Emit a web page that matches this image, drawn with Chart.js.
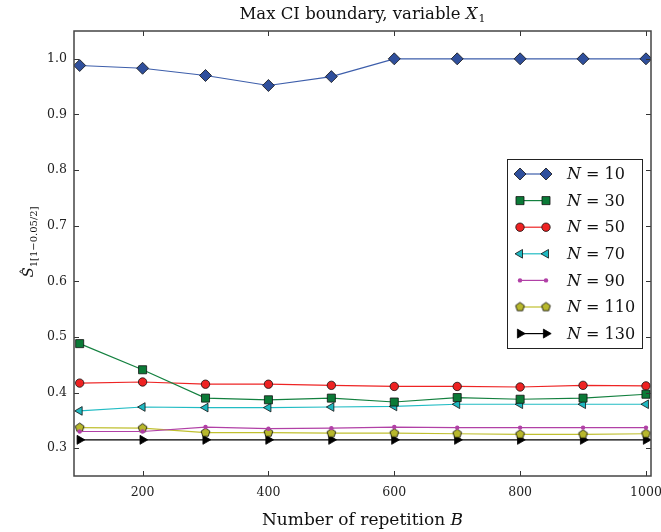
<!DOCTYPE html>
<html>
<head>
<meta charset="utf-8">
<script src="https://cdn.jsdelivr.net/npm/chart.js@4/dist/chart.umd.min.js"></script>
<style>
  body { margin: 0; background: #fff; }
  #grafico { display: block; }
</style>
</head>
<body>
<canvas id="grafico" width="661" height="532"></canvas>
<script>
// datos
const repeticiones = [100, 200, 300, 400, 500, 600, 700, 800, 900, 1000];
const etiquetas = ["N = 10", "N = 30", "N = 50", "N = 70", "N = 90", "N = 110", "N = 130"];
const n10  = [0.988, 0.983, 0.970, 0.952, 0.968, 1.000, 1.000, 1.000, 1.000, 1.000];
const n30  = [0.488, 0.441, 0.390, 0.387, 0.390, 0.383, 0.391, 0.388, 0.390, 0.397];
const n50  = [0.417, 0.419, 0.415, 0.415, 0.413, 0.411, 0.411, 0.410, 0.413, 0.412];
const n70  = [0.367, 0.374, 0.373, 0.373, 0.374, 0.375, 0.379, 0.379, 0.379, 0.379];
const n90  = [0.330, 0.330, 0.338, 0.335, 0.336, 0.338, 0.337, 0.337, 0.337, 0.337];
const n110 = [0.337, 0.336, 0.328, 0.328, 0.327, 0.327, 0.326, 0.325, 0.325, 0.326];
const n130 = [0.315, 0.315, 0.315, 0.315, 0.315, 0.315, 0.315, 0.315, 0.315, 0.315];
const ticksX = [200, 400, 600, 800, 1000];
const ticksY = [0.3, 0.4, 0.5, 0.6, 0.7, 0.8, 0.9, 1.0];

const fuente = "'DejaVu Serif', 'Liberation Serif', serif";

// pentagono para N=110
function pentagono(r, relleno) {
  let c = document.createElement("canvas");
  let s = Math.ceil(r * 2 + 3);
  c.width = s; c.height = s;
  let g = c.getContext("2d");
  g.beginPath();
  for (let i = 0; i < 5; i++) {
    let a = -Math.PI / 2 + i * 2 * Math.PI / 5;
    let px = s / 2 + r * Math.cos(a), py = s / 2 + r * Math.sin(a);
    if (i == 0) g.moveTo(px, py); else g.lineTo(px, py);
  }
  g.closePath();
  g.fillStyle = relleno;
  g.fill();
  g.lineWidth = 0.8;
  g.strokeStyle = "#000";
  g.stroke();
  return c;
}

function puntos(vals) {
  return repeticiones.map((b, i) => ({ x: b, y: vals[i] }));
}

function serie(label, vals, linea, relleno, estilo, radio, rot, borde) {
  return {
    label: label,
    data: puntos(vals),
    borderColor: linea,
    borderWidth: 1.2,
    backgroundColor: relleno,
    pointBackgroundColor: relleno,
    pointBorderColor: borde,
    pointBorderWidth: borde ? 0.8 : 0,
    pointStyle: estilo,
    pointRadius: radio,
    pointRotation: rot,
    tension: 0
  };
}

const datasets = [
  serie(etiquetas[0], n10, "#3d5eab", "#2f4f9c", "rectRot", 6, 0, "#111"),
  serie(etiquetas[1], n30, "#13803f", "#0b7a37", "rect", 5.7, 0, "#111"),
  serie(etiquetas[2], n50, "#ee2424", "#ee2222", "circle", 4.2, 0, "#111"),
  serie(etiquetas[3], n70, "#22bcc4", "#1fb8c0", "triangle", 5, -90, "#111"),
  serie(etiquetas[4], n90, "#b140a6", "#b140a6", "circle", 2.2, 0, null),
  serie(etiquetas[5], n110, "#c0c030", "#b8b82c", pentagono(4.6, "#b8b82c"), 4.6, 0, "#111"),
  serie(etiquetas[6], n130, "#000000", "#000000", "triangle", 5.2, 90, "#000")
];

// marco, ticks hacia adentro, titulos y leyenda
const decoracion = {
  id: "decoracion",
  afterDraw(chart) {
    const ctx = chart.ctx;
    const a = chart.chartArea;
    const sx = chart.scales.x, sy = chart.scales.y;
    ctx.save();
    ctx.strokeStyle = "#333";
    ctx.lineWidth = 1;
    ticksX.forEach(t => {
      let px = Math.round(sx.getPixelForValue(t)) + 0.5;
      ctx.beginPath();
      ctx.moveTo(px, a.bottom); ctx.lineTo(px, a.bottom - 5);
      ctx.moveTo(px, a.top); ctx.lineTo(px, a.top + 5);
      ctx.stroke();
    });
    ticksY.forEach(t => {
      let py = Math.round(sy.getPixelForValue(t)) + 0.5;
      ctx.beginPath();
      ctx.moveTo(a.left, py); ctx.lineTo(a.left + 5, py);
      ctx.moveTo(a.right, py); ctx.lineTo(a.right - 5, py);
      ctx.stroke();
    });
    ctx.lineWidth = 1.5;
    ctx.strokeStyle = "#444";
    ctx.strokeRect(a.left, a.top, a.right - a.left, a.bottom - a.top);

    // leyenda
    const lx = 507, ly = 159, lw = 135, lh = 189;
    ctx.fillStyle = "#fff";
    ctx.fillRect(lx, ly, lw, lh);
    ctx.lineWidth = 1;
    ctx.strokeStyle = "#222";
    ctx.strokeRect(lx + 0.5, ly + 0.5, lw, lh);
    chart.data.datasets.forEach((d, i) => {
      let y = 174 + i * 26.6;
      ctx.strokeStyle = d.borderColor;
      ctx.lineWidth = 1.2;
      ctx.beginPath();
      ctx.moveTo(520, y); ctx.lineTo(546, y);
      ctx.stroke();
      [520, 546].forEach(x => {
        ctx.fillStyle = d.pointBackgroundColor;
        ctx.strokeStyle = d.pointBorderColor || d.pointBackgroundColor;
        ctx.lineWidth = d.pointBorderWidth;
        Chart.helpers.drawPoint(ctx, {
          pointStyle: d.pointStyle, rotation: d.pointRotation,
          radius: d.pointRadius, borderWidth: d.pointBorderWidth
        }, x, y);
      });
      let partes = d.label.split(" = ");
      ctx.fillStyle = "#111";
      ctx.textBaseline = "middle";
      ctx.textAlign = "left";
      ctx.font = "italic 16px " + fuente;
      ctx.fillText(partes[0], 567, y + 1);
      let w = ctx.measureText(partes[0]).width;
      ctx.font = "16px " + fuente;
      ctx.fillText(" = " + partes[1], 567 + w, y + 1);
    });

    // titulo
    ctx.fillStyle = "#111";
    ctx.textBaseline = "alphabetic";
    ctx.font = "16.5px " + fuente;
    let t1 = "Max CI boundary, variable ";
    let w1 = ctx.measureText(t1).width;
    ctx.font = "italic 16.5px " + fuente;
    let w2 = ctx.measureText("X").width;
    ctx.font = "11px " + fuente;
    let w3 = ctx.measureText("1").width;
    let x0 = (a.left + a.right) / 2 - (w1 + w2 + w3 + 1) / 2;
    ctx.textAlign = "left";
    ctx.font = "16.5px " + fuente;
    ctx.fillText(t1, x0, 19);
    ctx.font = "italic 16.5px " + fuente;
    ctx.fillText("X", x0 + w1, 19);
    ctx.font = "11px " + fuente;
    ctx.fillText("1", x0 + w1 + w2 + 1, 22);

    // titulo eje x
    ctx.font = "17px " + fuente;
    let tx = "Number of repetition ";
    let wx = ctx.measureText(tx).width;
    ctx.font = "italic 17px " + fuente;
    let wb = ctx.measureText("B").width;
    let xx = (a.left + a.right) / 2 - (wx + wb) / 2;
    ctx.font = "17px " + fuente;
    ctx.fillText(tx, xx, 525);
    ctx.font = "italic 17px " + fuente;
    ctx.fillText("B", xx + wx, 525);

    // titulo eje y
    ctx.translate(33, 242);
    ctx.rotate(-Math.PI / 2);
    ctx.font = "italic 15px " + fuente;
    let sub = "1[1\u22120.05/2]";
    let ws = ctx.measureText("S").width;
    ctx.font = "10px " + fuente;
    let wsub = ctx.measureText(sub).width;
    let x1 = -(ws + wsub) / 2;
    ctx.font = "italic 15px " + fuente;
    ctx.fillText("S", x1, 0);
    ctx.font = "12px " + fuente;
    ctx.textAlign = "center";
    ctx.fillText("\u02C6", x1 + ws / 2 + 1, -3);
    ctx.textAlign = "left";
    ctx.font = "10px " + fuente;
    ctx.fillText(sub, x1 + ws, 4);
    ctx.restore();
  }
};

const grafico = new Chart(document.getElementById("grafico"), {
  type: "line",
  data: { datasets: datasets },
  options: {
    responsive: false,
    animation: false,
    layout: { padding: { top: 31, right: 0, left: 0, bottom: 0 } },
    plugins: { legend: { display: false }, tooltip: { enabled: false } },
    scales: {
      x: {
        type: "linear",
        min: 91, max: 1008,
        afterFit: s => { s.height = 56; s.paddingLeft = 0; s.paddingRight = 10; },
        afterBuildTicks: s => { s.ticks = ticksX.map(v => ({ value: v })); },
        grid: { display: false, drawTicks: false },
        border: { display: false },
        ticks: { padding: 9, color: "#222", font: { family: fuente, size: 12.5 }, maxRotation: 0,
          callback: v => String(v) }
      },
      y: {
        min: 0.25, max: 1.05,
        afterFit: s => { s.width = 74; },
        afterBuildTicks: s => { s.ticks = ticksY.map(v => ({ value: v })); },
        grid: { display: false, drawTicks: false },
        border: { display: false },
        ticks: { padding: 7, color: "#222", font: { family: fuente, size: 12.5 },
          callback: v => v.toFixed(1) }
      }
    }
  },
  plugins: [decoracion]
});
</script>
</body>
</html>
